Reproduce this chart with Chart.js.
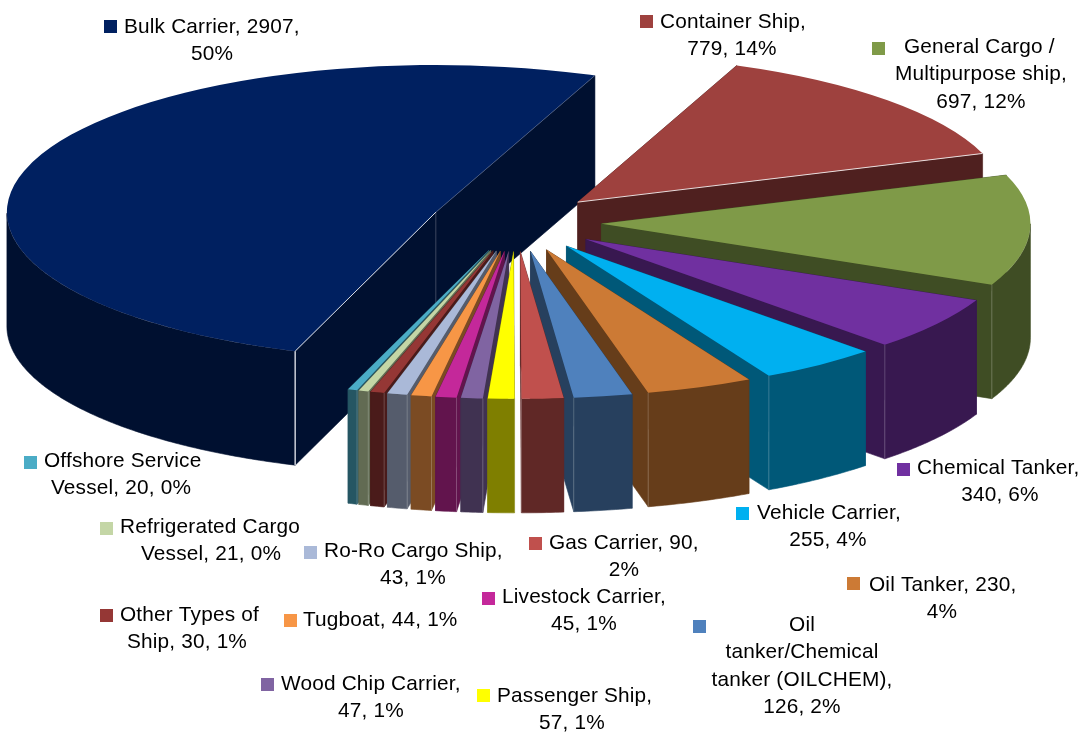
<!DOCTYPE html>
<html><head><meta charset="utf-8">
<style>html,body{margin:0;padding:0;background:#fff}canvas{display:block}</style>
<script src="https://cdn.jsdelivr.net/npm/chart.js@4/dist/chart.umd.js"></script>
</head><body><canvas id="c" width="1090" height="734"></canvas>
<script>
const categories = ['Bulk Carrier','Container Ship','General Cargo / Multipurpose ship','Chemical Tanker','Vehicle Carrier','Oil Tanker','Oil tanker/Chemical tanker (OILCHEM)','Gas Carrier','Passenger Ship','Wood Chip Carrier','Livestock Carrier','Tugboat','Ro-Ro Cargo Ship','Other Types of Ship','Refrigerated Cargo Vessel','Offshore Service Vessel'];
const shipCounts = [2907,779,697,340,255,230,126,90,57,47,45,44,43,30,21,20];
const sliceColors = ['#002060','#9e413e','#7f9a48','#7030a0','#00b0f0','#cc7a35','#4f81bd','#c0504d','#ffff00','#8064a2','#c4289a','#f79646','#aab9d8','#953735','#c4d6a6','#4bacc6'];
const labelLines = [
 ['Bulk Carrier, 2907,','50%'],
 ['Container Ship,','779, 14%'],
 ['General Cargo /','Multipurpose ship,','697, 12%'],
 ['Chemical Tanker,','340, 6%'],
 ['Vehicle Carrier,','255, 4%'],
 ['Oil Tanker, 230,','4%'],
 ['Oil','tanker/Chemical','tanker (OILCHEM),','126, 2%'],
 ['Gas Carrier, 90,','2%'],
 ['Passenger Ship,','57, 1%'],
 ['Wood Chip Carrier,','47, 1%'],
 ['Livestock Carrier,','45, 1%'],
 ['Tugboat, 44, 1%'],
 ['Ro-Ro Cargo Ship,','43, 1%'],
 ['Other Types of','Ship, 30, 1%'],
 ['Refrigerated Cargo','Vessel, 21, 0%'],
 ['Offshore Service','Vessel, 20, 0%']
];
// square x, square y, first-line left, centre x of following lines, first-line centre y
const labelPlace = [
 [104,20,124,212,27.5],[640,15,660,732,22.5],[872,42,904,981,47.5],[897,463,917,1000,468.5],
 [736,507,757,828,513.5],[847,577,869,942,585.5],[693,620,null,802,625.5],[529,537,549,624,543.5],
 [477,689,497,572,696.5],[261,678,281,371,684.5],[482,592,502,584,597.5],[284,614,303,0,620.5],
 [304,546,324,413,551.5],[100,609,120,187,615.5],[100,522,120,211,527.5],[24,456,44,121,461.5]
];
const VIEW = {cx:516, cy:222.4, squash:0.343, explode:85.5, depth:114, radius:429, rotation:-160.85};

function halve(hex){const n=parseInt(hex.slice(1),16);
 return `rgb(${(n>>16&255)>>1},${(n>>8&255)>>1},${(n&255)>>1})`;}

class Pie3D extends Chart.PieController{
 static id='pie3d';
 draw(){
  const ctx=this.chart.ctx, arcs=this.getMeta().data, V=VIEW;
  const order=arcs.map((a,i)=>i).sort((p,q)=>key(arcs[q])-key(arcs[p]));
  function mid(a){return (a.startAngle+a.endAngle)/2;}
  function key(a){ if(a.endAngle-a.startAngle>Math.PI) return 99;
   return Math.abs(Math.atan2(Math.cos(mid(a)),Math.sin(mid(a))));}
  for(const i of order){
   const a=arcs[i], h=mid(a), col=a.options.backgroundColor;
   const ox=V.cx+Math.cos(h)*V.explode, oy=V.cy+Math.sin(h)*V.explode*V.squash;
   const R=a.outerRadius;
   const P=t=>[ox+Math.cos(t)*R, oy+Math.sin(t)*R*V.squash];
   ctx.fillStyle=ctx.strokeStyle=halve(col); ctx.lineWidth=0.6;
   // radial side walls
   for(const t of [a.startAngle,a.endAngle]){
    const p=P(t);
    ctx.beginPath();ctx.moveTo(ox,oy);ctx.lineTo(p[0],p[1]);ctx.lineTo(p[0],p[1]+V.depth);ctx.lineTo(ox,oy+V.depth);ctx.closePath();ctx.fill();ctx.stroke();
   }
   // curved outer wall: only the part that faces the viewer
   const rim=[];const n=Math.ceil((a.endAngle-a.startAngle)/0.01);
   for(let k=0;k<=n;k++){const t=a.startAngle+(a.endAngle-a.startAngle)*k/n;if(Math.sin(t)>=0)rim.push(P(t));}
   if(rim.length>1){
    ctx.beginPath();rim.forEach((p,k)=>k?ctx.lineTo(p[0],p[1]):ctx.moveTo(p[0],p[1]));
    rim.slice().reverse().forEach(p=>ctx.lineTo(p[0],p[1]+V.depth));ctx.closePath();ctx.fill();ctx.stroke();
   }
   // top face: the library's own arc, under the tilt transform
   ctx.save();
   ctx.translate(ox,oy);ctx.scale(1,V.squash);ctx.translate(-a.x,-a.y);
   a.draw(ctx);
   ctx.restore();
   // edge highlights
   const s=P(a.startAngle), e=P(a.endAngle);
   if(i===0){
    ctx.strokeStyle='#d8dce4';ctx.lineWidth=1.4;
    ctx.beginPath();ctx.moveTo(s[0],s[1]);ctx.lineTo(s[0],s[1]+V.depth);ctx.stroke();
    ctx.lineWidth=1;ctx.beginPath();ctx.moveTo(s[0],s[1]);ctx.lineTo(ox,oy);ctx.stroke();
    ctx.strokeStyle='rgba(255,255,255,.25)';ctx.lineWidth=0.8;
    ctx.beginPath();ctx.moveTo(ox,oy);ctx.lineTo(ox,oy+V.depth);ctx.stroke();
    ctx.beginPath();ctx.moveTo(ox,oy);ctx.lineTo(e[0],e[1]);ctx.stroke();
   } else if(i===1){
    ctx.strokeStyle='#e8dcdc';ctx.lineWidth=1;
    ctx.beginPath();ctx.moveTo(ox,oy);ctx.lineTo(e[0],e[1]);ctx.stroke();
   } else {
    ctx.strokeStyle='rgba(255,255,255,.28)';ctx.lineWidth=0.8;
    const c=Math.cos(h)>0?e:s;
    ctx.beginPath();ctx.moveTo(c[0],c[1]);ctx.lineTo(c[0],c[1]+V.depth);ctx.stroke();
   }
  }
 }
}
Chart.register(Pie3D);

const calloutPlugin={id:'callouts',afterDraw(chart){
 const ctx=chart.ctx;ctx.save();
 ctx.font='20.8px "Liberation Sans", Arial, sans-serif';ctx.letterSpacing='0.18px';ctx.textBaseline='middle';
 labelLines.forEach((lines,i)=>{
  const [sx,sy,x1,cx,y]=labelPlace[i];
  ctx.fillStyle=sliceColors[i];ctx.fillRect(sx,sy,13,13);ctx.fillStyle='#000';
  lines.forEach((t,k)=>{
   const yy=y+k*27.2;
   if(k===0&&x1!==null){ctx.textAlign='left';ctx.fillText(t,x1,yy);}
   else{ctx.textAlign='center';ctx.fillText(t,cx,yy);}
  });
 });
 ctx.restore();
}};

new Chart(document.getElementById('c'),{
 type:'pie3d',
 data:{labels:categories,datasets:[{data:shipCounts,backgroundColor:sliceColors,borderWidth:0,hoverOffset:0,clip:false}]},
 options:{responsive:false,animation:false,rotation:VIEW.rotation,radius:VIEW.radius,
  layout:{padding:0},events:[],
  plugins:{legend:{display:false},tooltip:{enabled:false},title:{display:false}}},
 plugins:[calloutPlugin]
});
</script></body></html>
